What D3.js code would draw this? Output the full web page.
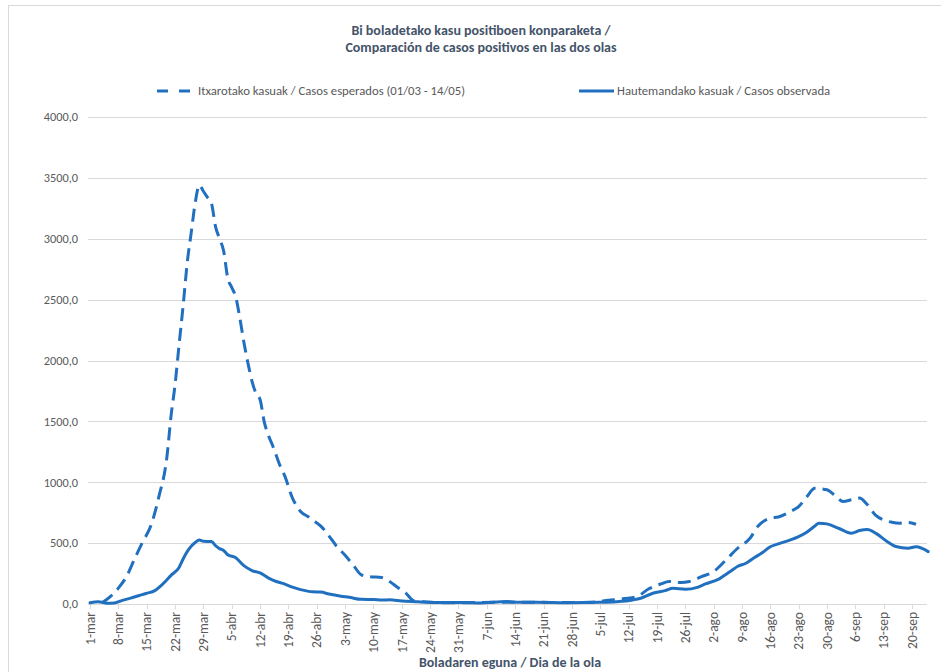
<!DOCTYPE html>
<html>
<head>
<meta charset="utf-8">
<script src="https://cdn.jsdelivr.net/npm/d3@7"></script>
<style>
  html, body { margin: 0; padding: 0; background: #ffffff; }
  svg { display: block; }
  text { font-family: Carlito, Lato, "Open Sans", sans-serif; }
</style>
</head>
<body>
<svg id="chart" width="941" height="672"></svg>
<script>
// ---------------- DATA ----------------
const titleLines = ["Bi boladetako kasu positiboen konparaketa /", "Comparación de casos positivos en las dos olas"];
const xAxisTitle = "Boladaren eguna / Dia de la ola";
const seriesNames = ["Itxarotako kasuak / Casos esperados (01/03 - 14/05)", "Hautemandako kasuak / Casos observada"];

// x-axis tick labels (every 7 days from 1-mar)
const tickDates = ["2020-03-01","2020-03-08","2020-03-15","2020-03-22","2020-03-29","2020-04-05","2020-04-12","2020-04-19","2020-04-26",
  "2020-05-03","2020-05-10","2020-05-17","2020-05-24","2020-05-31","2020-06-07","2020-06-14","2020-06-21","2020-06-28",
  "2020-07-05","2020-07-12","2020-07-19","2020-07-26","2020-08-02","2020-08-09","2020-08-16","2020-08-23","2020-08-30",
  "2020-09-06","2020-09-13","2020-09-20"];
const tickLabels = ["1-mar","8-mar","15-mar","22-mar","29-mar","5-abr","12-abr","19-abr","26-abr",
  "3-may","10-may","17-may","24-may","31-may","7-jun","14-jun","21-jun","28-jun",
  "5-jul","12-jul","19-jul","26-jul","2-ago","9-ago","16-ago","23-ago","30-ago",
  "6-sep","13-sep","20-sep"];
const yTicks = [0, 500, 1000, 1500, 2000, 2500, 3000, 3500, 4000];

// Expected cases (dashed)
const expectedDates = ["2020-03-04","2020-03-06","2020-03-08","2020-03-10","2020-03-12","2020-03-14","2020-03-16","2020-03-18","2020-03-20",
  "2020-03-21","2020-03-22","2020-03-23","2020-03-24","2020-03-25","2020-03-26","2020-03-27","2020-03-28","2020-03-29","2020-03-30",
  "2020-03-31","2020-04-01","2020-04-02","2020-04-03","2020-04-04","2020-04-05","2020-04-06","2020-04-07","2020-04-08","2020-04-09",
  "2020-04-10","2020-04-11","2020-04-12","2020-04-13","2020-04-14","2020-04-15","2020-04-16","2020-04-17","2020-04-18","2020-04-20",
  "2020-04-22","2020-04-24","2020-04-25","2020-04-27","2020-04-29","2020-05-01","2020-05-03","2020-05-05","2020-05-07","2020-05-09",
  "2020-05-12","2020-05-14","2020-05-16","2020-05-18","2020-05-20","2020-05-22","2020-05-25","2020-06-01","2020-06-09","2020-06-19",
  "2020-06-27","2020-07-03","2020-07-07","2020-07-11","2020-07-14","2020-07-17","2020-07-20","2020-07-22","2020-07-25","2020-07-27",
  "2020-07-30","2020-08-02","2020-08-05","2020-08-08","2020-08-11","2020-08-13","2020-08-16","2020-08-18","2020-08-21","2020-08-23",
  "2020-08-25","2020-08-27","2020-08-30","2020-09-01","2020-09-03","2020-09-05","2020-09-07","2020-09-09","2020-09-11","2020-09-13",
  "2020-09-15","2020-09-17","2020-09-19","2020-09-21"];
const expectedValues = [10,60,130,225,370,510,640,880,1210,
  1540,1800,2130,2450,2800,3050,3300,3440,3390,3340,
  3290,3100,3000,2900,2680,2600,2520,2350,2150,1980,
  1830,1730,1680,1500,1390,1310,1220,1130,1060,870,
  760,715,690,640,560,470,400,320,240,225,
  218,185,135,90,25,18,12,10,15,14,
  12,15,30,45,60,125,165,185,176,185,
  225,266,360,460,540,640,705,715,760,800,
  880,950,938,890,842,856,870,815,730,690,
  672,664,670,655];

// Observed cases (solid)
const observedDates = ["2020-03-01","2020-03-03","2020-03-04","2020-03-05","2020-03-07","2020-03-09","2020-03-11","2020-03-13","2020-03-15",
  "2020-03-17","2020-03-19","2020-03-21","2020-03-23","2020-03-24","2020-03-25","2020-03-26","2020-03-27","2020-03-28","2020-03-29",
  "2020-03-31","2020-04-01","2020-04-02","2020-04-03","2020-04-04","2020-04-06","2020-04-08","2020-04-10","2020-04-12","2020-04-14",
  "2020-04-16","2020-04-18","2020-04-20","2020-04-22","2020-04-25","2020-04-27","2020-04-29","2020-05-02","2020-05-04","2020-05-07",
  "2020-05-10","2020-05-12","2020-05-14","2020-05-17","2020-05-21","2020-05-25","2020-06-02","2020-06-05","2020-06-12","2020-06-15",
  "2020-06-19","2020-06-27","2020-07-05","2020-07-09","2020-07-13","2020-07-15","2020-07-18","2020-07-21","2020-07-23","2020-07-26",
  "2020-07-29","2020-07-31","2020-08-03","2020-08-06","2020-08-08","2020-08-10","2020-08-12","2020-08-14","2020-08-16","2020-08-18",
  "2020-08-21","2020-08-23","2020-08-25","2020-08-27","2020-08-28","2020-08-30","2020-09-02","2020-09-05","2020-09-07","2020-09-09",
  "2020-09-11","2020-09-14","2020-09-16","2020-09-19","2020-09-21","2020-09-24"];
const observedValues = [10,18,15,6,8,30,48,68,88,
  110,165,235,300,370,430,475,505,526,515,
  513,480,455,440,405,380,315,275,255,215,
  185,165,138,118,100,98,82,64,55,38,
  37,32,34,25,19,12,12,8,20,14,
  14,11,14,19,33,47,88,110,129,121,
  137,165,200,265,310,335,380,420,470,494,
  527,554,590,640,664,658,620,582,603,612,
  582,510,472,458,470,430];

// ---------------- CHART ----------------
const svg = d3.select("#chart");
const W = 941, H = 672;
const parse = d3.utcParse("%Y-%m-%d");
const blue = "#2170c0";
const gridColor = "#d9d9d9";
const labelColor = "#595959";
const titleColor = "#44546a";

const plotLeft = 88, plotRight = 927, plotTop = 117, plotBottom = 604;

// chart-area border
svg.append("rect").attr("x", 8.5).attr("y", 5.5).attr("width", W + 20).attr("height", H + 20)
  .attr("fill", "#fff").attr("stroke", gridColor).attr("stroke-width", 1);

const x = d3.scaleUtc().domain([parse("2020-03-01"), parse("2020-09-20")]).range([90, 912]);
const y = d3.scaleLinear().domain([0, 4000]).range([plotBottom, plotTop]);

// gridlines
svg.append("g").selectAll("line").data(yTicks.filter(d => d > 0)).join("line")
  .attr("x1", plotLeft).attr("x2", plotRight)
  .attr("y1", d => Math.round(y(d)) + 0.5).attr("y2", d => Math.round(y(d)) + 0.5)
  .attr("stroke", gridColor).attr("stroke-width", 1);

// y axis labels
const fmt = d => d3.format(".1f")(d).replace(".", ",");
svg.append("g").selectAll("text").data(yTicks).join("text")
  .attr("x", 78).attr("y", d => y(d)).attr("dy", "0.35em")
  .attr("text-anchor", "end").attr("font-size", 12.3).attr("fill", labelColor)
  .text(fmt);

// x axis line
svg.append("line").attr("x1", plotLeft).attr("x2", plotRight)
  .attr("y1", plotBottom + 0.5).attr("y2", plotBottom + 0.5)
  .attr("stroke", gridColor).attr("stroke-width", 1);

// x ticks
const ticks = tickDates.map((d, i) => ({ date: parse(d), label: tickLabels[i] }));
svg.append("g").selectAll("line").data(ticks).join("line")
  .attr("x1", d => Math.round(x(d.date)) + 0.5).attr("x2", d => Math.round(x(d.date)) + 0.5)
  .attr("y1", plotBottom).attr("y2", plotBottom + 5)
  .attr("stroke", gridColor).attr("stroke-width", 1);

svg.append("g").selectAll("text").data(ticks).join("text")
  .attr("transform", d => `translate(${x(d.date)},${plotBottom + 8}) rotate(-90)`)
  .attr("text-anchor", "end").attr("dy", "0.35em")
  .attr("font-size", 13.5).attr("fill", labelColor)
  .text(d => d.label);

// lines
const expected = expectedDates.map((d, i) => ({ date: parse(d), value: expectedValues[i] }));
const observed = observedDates.map((d, i) => ({ date: parse(d), value: observedValues[i] }));
const line = d3.line().x(d => x(d.date)).y(d => y(d.value)).curve(d3.curveMonotoneX);

svg.append("path").datum(observed).attr("d", line)
  .attr("fill", "none").attr("stroke", blue).attr("stroke-width", 3)
  .attr("stroke-linejoin", "round").attr("stroke-linecap", "round");

svg.append("path").datum(expected).attr("d", line)
  .attr("fill", "none").attr("stroke", blue).attr("stroke-width", 3)
  .attr("stroke-dasharray", "13,7");

// title
svg.append("g").selectAll("text").data(titleLines).join("text")
  .attr("x", 481).attr("y", (d, i) => 35 + i * 17)
  .attr("text-anchor", "middle").attr("font-size", 14).attr("font-weight", "bold")
  .attr("fill", titleColor).text(d => d);

// legend
const lg = svg.append("g");
lg.append("line").attr("x1", 157).attr("x2", 191).attr("y1", 91).attr("y2", 91)
  .attr("stroke", blue).attr("stroke-width", 3).attr("stroke-dasharray", "11,11");
lg.append("text").attr("x", 198).attr("y", 91).attr("dy", "0.35em")
  .attr("font-size", 12.7).attr("fill", labelColor).text(seriesNames[0]);
lg.append("line").attr("x1", 579).attr("x2", 614).attr("y1", 91).attr("y2", 91)
  .attr("stroke", blue).attr("stroke-width", 3);
lg.append("text").attr("x", 617).attr("y", 91).attr("dy", "0.35em")
  .attr("font-size", 12.7).attr("fill", labelColor).text(seriesNames[1]);

// x axis title
svg.append("text").attr("x", 510).attr("y", 667).attr("text-anchor", "middle")
  .attr("font-size", 14).attr("font-weight", "bold").attr("fill", titleColor)
  .text(xAxisTitle);
</script>
</body>
</html>
